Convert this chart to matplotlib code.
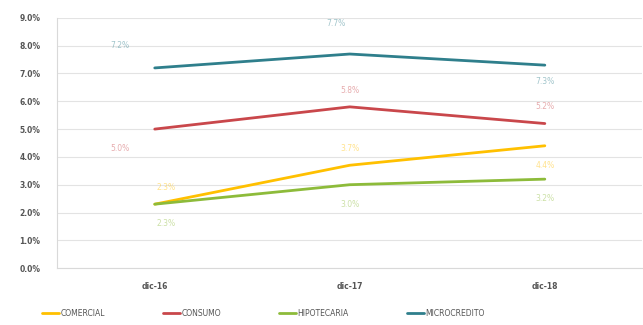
import matplotlib.pyplot as plt
from matplotlib.ticker import FuncFormatter

periods = ["dic-16", "dic-17", "dic-18"]
comercial = [2.3, 3.7, 4.4]
consumo = [5.0, 5.8, 5.2]
hipotecaria = [2.3, 3.0, 3.2]
microcredito = [7.2, 7.7, 7.3]

series = [
    ("COMERCIAL", comercial, "#FFC000", [(8, 12), (0, 12), (0, -14)]),
    ("CONSUMO", consumo, "#C9474B", [(-25, -14), (0, 12), (0, 12)]),
    ("HIPOTECARIA", hipotecaria, "#8DBB3A", [(8, -14), (0, -14), (0, -14)]),
    ("MICROCREDITO", microcredito, "#2F7F8C", [(-25, 16), (-10, 22), (0, -12)]),
]

fig = plt.figure(figsize=(6.43, 3.25), dpi=100)
ax = fig.add_axes([0.089, 0.175, 0.91, 0.77])

x = [i + 0.5 for i in range(len(periods))]
for name, vals, color, offsets in series:
    ax.plot(x, vals, color=color, lw=2.0, label=name, solid_capstyle="round")
    for xi, v, off in zip(x, vals, offsets):
        ax.annotate(f"{v:.1f}%", (xi, v), xytext=off, textcoords="offset points",
                    ha="center", va="center", fontsize=5.5, color=color, alpha=0.45)

ax.set_xlim(0, 3)
ax.set_ylim(0, 9)
ax.set_yticks(range(0, 10))
ax.yaxis.set_major_formatter(FuncFormatter(lambda v, _: f"{v:.1f}%"))
ax.set_xticks(x)
ax.set_xticklabels(periods)
ax.tick_params(length=0, labelsize=5.5, colors="#555555", pad=10)
ax.tick_params(axis="y", pad=12)
for lbl in ax.get_xticklabels() + ax.get_yticklabels():
    lbl.set_fontweight("bold")
ax.grid(axis="y", color="#E3E3E3", lw=0.8)
ax.set_axisbelow(True)
for side in ["top", "right"]:
    ax.spines[side].set_visible(False)
for side in ["left", "bottom"]:
    ax.spines[side].set_color("#D9D9D9")

fig.legend(loc="lower left", bbox_to_anchor=(0.055, 0.0), ncol=4, frameon=False,
           fontsize=5.5, handlelength=2.2, handletextpad=0.2, columnspacing=7.6,
           labelcolor="#555555")

fig.savefig("out.png", dpi=100, facecolor="white")
